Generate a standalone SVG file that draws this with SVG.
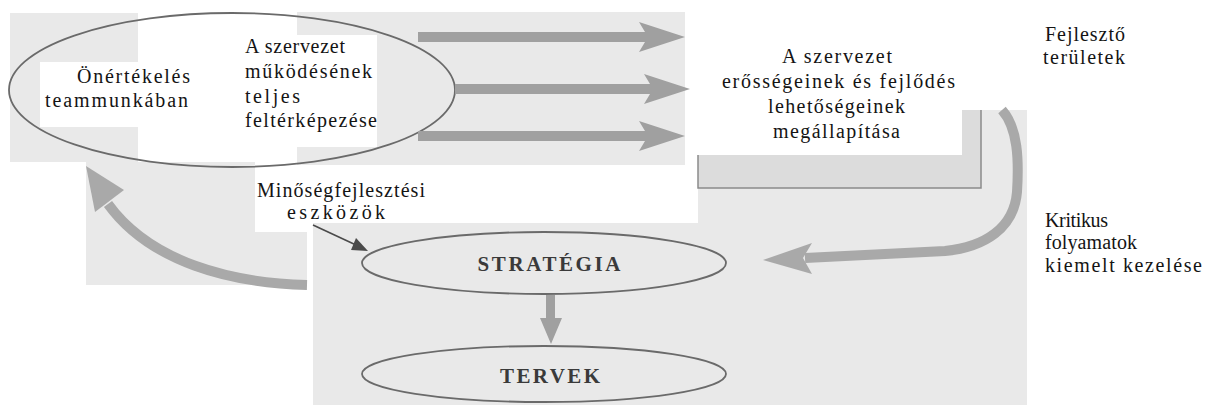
<svg xmlns="http://www.w3.org/2000/svg" width="1207" height="405" viewBox="0 0 1207 405">
  <style>
    .patch{fill:#e9e9e9}
    .blank{fill:#ffffff}
    .t{fill:#141414}
    .b{font-weight:bold;fill:#3a3a3a;text-anchor:middle}
    .ring{fill:none;stroke:#6a6a6a;stroke-width:1.8}
    .flow{fill:#a0a0a0}
    .band{fill:none;stroke:#a9a9a9;stroke-width:10}
    .bandhead{fill:#a9a9a9}
    .pointer{stroke:#4a4a4a;stroke-width:1.6;fill:none}
    .pointerhead{fill:#4a4a4a}
    .edge{stroke:#8a8a8a;stroke-width:1.5;fill:none}
  </style>

  <!-- paper tone behind the drawing -->
  <g id="paper">
    <rect class="patch" x="10" y="13" width="128" height="149"/>
    <rect class="blank" x="40" y="62" width="98" height="65"/>
    <rect class="patch" x="86" y="162" width="221" height="123"/>
    <rect class="blank" x="255" y="162" width="52" height="70"/>
    <rect class="patch" x="297" y="12" width="388" height="153"/>
    <rect class="blank" x="240" y="35" width="137" height="112"/>
    <rect class="patch" x="313" y="223" width="714" height="182"/>
    <rect class="patch" x="698" y="155" width="329" height="68"/>
    <rect class="patch" x="962" y="110" width="65" height="45"/>
  </g>

  <g font-family="Liberation Serif, DejaVu Serif, Times New Roman, serif" font-size="20">
    <!-- self assessment cycle -->
    <g id="node-onertekeles">
      <ellipse class="ring" cx="232" cy="90" rx="223" ry="77"/>
      <text class="t" x="77" y="83" textLength="113" lengthAdjust="spacing">Önértékelés</text>
      <text class="t" x="45" y="107" textLength="143" lengthAdjust="spacing">teammunkában</text>
    </g>

    <g id="node-felterkepezes">
      <text class="t" x="245" y="53" textLength="100" lengthAdjust="spacing">A szervezet</text>
      <text class="t" x="245" y="78" textLength="127" lengthAdjust="spacing">működésének</text>
      <text class="t" x="245" y="103" textLength="55" lengthAdjust="spacing">teljes</text>
      <text class="t" x="245" y="127" textLength="132" lengthAdjust="spacing">feltérképezése</text>
    </g>

    <!-- strengths and improvement areas -->
    <g id="node-megallapitas">
      <path d="M698,155 H962 V110 H981 V188 H698 Z" fill="#dcdcdc"/>
      <path class="edge" d="M981,110 V188 H698 V155"/>
      <text class="t" x="782" y="63" textLength="110" lengthAdjust="spacing">A szervezet</text>
      <text class="t" x="722" y="88" textLength="233" lengthAdjust="spacing">erősségeinek és fejlődés</text>
      <text class="t" x="768" y="113" textLength="137" lengthAdjust="spacing">lehetőségeinek</text>
      <text class="t" x="773" y="138" textLength="127" lengthAdjust="spacing">megállapítása</text>
    </g>

    <g id="node-fejleszto">
      <text class="t" x="1045" y="41" textLength="80" lengthAdjust="spacing">Fejlesztő</text>
      <text class="t" x="1043" y="64" textLength="82" lengthAdjust="spacing">területek</text>
    </g>

    <g id="node-kritikus">
      <text class="t" x="1045" y="227" textLength="63" lengthAdjust="spacing">Kritikus</text>
      <text class="t" x="1045" y="249" textLength="92" lengthAdjust="spacing">folyamatok</text>
      <text class="t" x="1045" y="272" textLength="157" lengthAdjust="spacing">kiemelt kezelése</text>
    </g>

    <g id="node-eszkozok">
      <text class="t" x="257" y="197" textLength="168" lengthAdjust="spacing">Minőségfejlesztési</text>
      <text class="t" x="287" y="219" textLength="98" lengthAdjust="spacing">eszközök</text>
    </g>

    <g id="node-strategia">
      <ellipse class="ring" cx="544" cy="263" rx="182" ry="31"/>
      <text class="b" x="549" y="271" font-size="21" textLength="143" lengthAdjust="spacing">STRATÉGIA</text>
    </g>

    <g id="node-tervek">
      <ellipse class="ring" cx="544" cy="374" rx="182" ry="28"/>
      <text class="b" x="550" y="383" font-size="21" textLength="100" lengthAdjust="spacing">TERVEK</text>
    </g>
  </g>

  <!-- connectors -->
  <g id="connectors">
    <polygon class="flow" points="418,32 645,32 639,22 685,37 639,52 645,42 418,42"/>
    <polygon class="flow" points="455,84 650,84 644,74 690,89 644,104 650,94 455,94"/>
    <polygon class="flow" points="418,131 645,131 639,121 685,136 639,151 645,141 418,141"/>

    <path class="band" d="M1002,110 C1018,128 1019,160 1017,192 C1014,228 985,247 945,251 L805,258"/>
    <polygon class="bandhead" points="763,260 812,243 803,258 812,274"/>

    <path class="band" d="M307,285 C230,283 150,262 108,204"/>
    <polygon class="bandhead" points="86,166 95,212 124,190"/>

    <line class="pointer" x1="313" y1="225" x2="356" y2="245"/>
    <polygon class="pointerhead" points="368,251 351,250 356,238"/>

    <polygon class="flow" points="546,295 555,295 555,318 562,318 551,344 540,318 546,318"/>
  </g>
</svg>
